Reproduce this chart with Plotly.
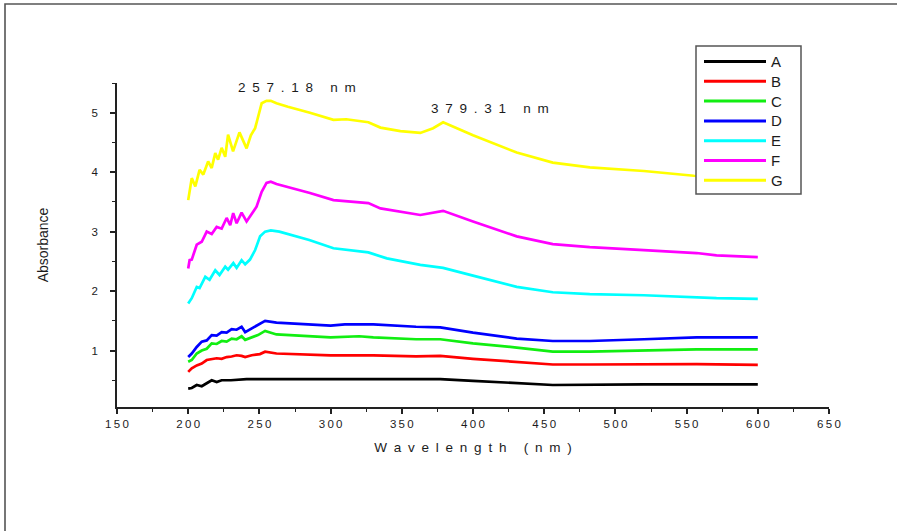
import plotly.graph_objects as go

# ---- data -----------------------------------------------------------------
series_names = ["A", "B", "C", "D", "E", "F", "G"]
series_colors = ["#000000", "#FF0000", "#11EE11", "#0000FF", "#00FFFF", "#FF00FF", "#FFFF00"]

wl_A = [200, 202.5, 206, 209.5, 213, 216.5, 220, 223.5, 230, 241, 262, 300, 330, 360, 377, 400, 430.7, 456, 520, 557, 600]
abs_A = [0.36, 0.37, 0.42, 0.40, 0.45, 0.50, 0.47, 0.50, 0.50, 0.52, 0.52, 0.52, 0.52, 0.51, 0.52, 0.49, 0.445, 0.42, 0.43, 0.43, 0.43]

wl_B = [200, 202.5, 206, 209.5, 213, 216.5, 220, 223.5, 227, 230.5, 234, 237.5, 240, 244.6, 250.4, 254, 262, 300, 330, 360, 377, 400, 430.7, 456, 482, 520, 557, 600]
abs_B = [0.64, 0.70, 0.75, 0.78, 0.84, 0.86, 0.87, 0.86, 0.89, 0.90, 0.92, 0.91, 0.89, 0.92, 0.94, 0.98, 0.95, 0.92, 0.92, 0.90, 0.91, 0.86, 0.81, 0.765, 0.765, 0.77, 0.77, 0.76]

wl_C = [200, 202.5, 206, 209.5, 213, 216.5, 220, 223.5, 227, 230.5, 234, 237.5, 240, 244.6, 249, 254, 262, 300, 320, 330, 360, 377, 400, 430.7, 456, 482, 520, 557, 600]
abs_C = [0.81, 0.84, 0.95, 1.00, 1.03, 1.12, 1.11, 1.16, 1.15, 1.20, 1.19, 1.24, 1.18, 1.22, 1.26, 1.33, 1.27, 1.22, 1.24, 1.22, 1.19, 1.19, 1.12, 1.05, 0.98, 0.98, 1.00, 1.02, 1.02]

wl_D = [200, 202.5, 206, 209.5, 213, 216.5, 220, 223.5, 227, 230.5, 234, 237.5, 240, 244.6, 249, 254, 262, 300, 310, 330, 360, 377, 400, 430.7, 456, 482, 520, 557, 600]
abs_D = [0.89, 0.95, 1.06, 1.15, 1.17, 1.26, 1.25, 1.31, 1.30, 1.36, 1.35, 1.40, 1.31, 1.37, 1.43, 1.50, 1.47, 1.42, 1.44, 1.44, 1.40, 1.39, 1.30, 1.20, 1.16, 1.16, 1.19, 1.22, 1.22]

wl_E = [200, 202.5, 206, 208, 212, 215, 219, 222, 226, 228, 231.7, 234, 237.5, 240, 243.4, 247, 250.5, 254, 258, 264, 285, 302, 326.5, 339.5, 363, 379, 400, 430.7, 456, 482, 520, 557, 571, 600]
abs_E = [1.79, 1.88, 2.07, 2.05, 2.24, 2.19, 2.35, 2.27, 2.41, 2.36, 2.47, 2.39, 2.52, 2.45, 2.53, 2.69, 2.92, 3.00, 3.02, 3.00, 2.86, 2.72, 2.65, 2.55, 2.44, 2.39, 2.26, 2.07, 1.98, 1.95, 1.93, 1.90, 1.88, 1.87]

wl_F = [200, 201, 202.5, 206, 209.5, 213, 216.5, 220, 223.5, 227, 229.5, 231.6, 234, 237.5, 241, 244.6, 248, 251.6, 255, 258, 262, 285.5, 302, 326.5, 335, 363, 379, 400, 430.7, 456, 482, 520, 557, 571, 600]
abs_F = [2.38, 2.52, 2.53, 2.78, 2.83, 3.00, 2.96, 3.08, 3.05, 3.23, 3.11, 3.31, 3.14, 3.32, 3.17, 3.31, 3.42, 3.67, 3.82, 3.84, 3.80, 3.65, 3.53, 3.48, 3.39, 3.28, 3.35, 3.17, 2.92, 2.79, 2.74, 2.69, 2.64, 2.60, 2.57]

wl_G = [200, 202.5, 205, 208, 210.6, 214, 216.5, 219, 221, 223.5, 226, 228, 231.5, 236, 241, 244, 247, 249, 251.6, 255, 258, 262, 270, 285.5, 302, 311, 326.5, 335, 349, 363, 372, 379, 400, 430.7, 456, 482, 520, 555, 600]
abs_G = [3.53, 3.90, 3.76, 4.04, 3.96, 4.18, 4.07, 4.32, 4.21, 4.41, 4.26, 4.63, 4.35, 4.67, 4.40, 4.62, 4.74, 4.94, 5.16, 5.20, 5.20, 5.16, 5.10, 5.00, 4.88, 4.89, 4.84, 4.75, 4.69, 4.66, 4.74, 4.84, 4.62, 4.33, 4.16, 4.08, 4.02, 3.94, 3.88]

wavelengths = [wl_A, wl_B, wl_C, wl_D, wl_E, wl_F, wl_G]
absorbances = [abs_A, abs_B, abs_C, abs_D, abs_E, abs_F, abs_G]

x_ticks = [150, 200, 250, 300, 350, 400, 450, 500, 550, 600, 650]
y_ticks = [1, 2, 3, 4, 5]

peak_labels = [(257.18, 5.20, "257.18 nm"), (379.31, 4.84, "379.31 nm")]

# ---- layout geometry (pixels) ---------------------------------------------
W, H = 897, 531
ML, MR, MT, MB = 117, 68, 83, 124
PW, PH = W - ML - MR, H - MT - MB
FONT = "Liberation Sans, Arial, sans-serif"
TXT = "#1c1c1c"


def px_x(px):
    return (px - ML) / PW


def px_y(py):
    return (H - MB - py) / PH


def spaced(s, gap="\u2009"):
    return gap.join(list(s))


fig = go.Figure()
for name, color, xs, ys in zip(series_names, series_colors, wavelengths, absorbances):
    fig.add_trace(go.Scatter(x=xs, y=ys, mode="lines", name=name,
                             line=dict(color=color, width=2.7),
                             showlegend=False, hoverinfo="skip"))

shapes = []
annotations = []

# outer frame (open to the right and bottom)
shapes.append(dict(type="path", xref="paper", yref="paper",
                   path="M {:.4f} {:.4f} L {:.4f} {:.4f} L {:.4f} {:.4f}".format(
                       px_x(5), px_y(560), px_x(5), px_y(4), px_x(960), px_y(4)),
                   line=dict(color="#555555", width=1.6), layer="above"))

# legend box
lg_left, lg_right, lg_top, lg_bottom = 696, 801, 46, 194
shapes.append(dict(type="rect", xref="paper", yref="paper",
                   x0=px_x(lg_left), x1=px_x(lg_right), y0=px_y(lg_bottom), y1=px_y(lg_top),
                   line=dict(color="#555555", width=1.5), fillcolor="white", layer="above"))
for i, (name, color) in enumerate(zip(series_names, series_colors)):
    cy = 61.5 + i * 19.8
    shapes.append(dict(type="line", xref="paper", yref="paper",
                       x0=px_x(704), x1=px_x(766), y0=px_y(cy), y1=px_y(cy),
                       line=dict(color=color, width=3), layer="above"))
    annotations.append(dict(xref="paper", yref="paper", x=px_x(769), y=px_y(cy),
                            text=name, showarrow=False, xanchor="left", yanchor="middle",
                            font=dict(family=FONT, size=15, color=TXT)))

# peak wavelength labels
for (xv, yv, label), dx in zip(peak_labels, [27, 46]):
    annotations.append(dict(x=xv, y=yv, xref="x", yref="y", text=spaced(label, "\u2002"),
                            showarrow=False, yanchor="bottom", yshift=4, xshift=dx,
                            font=dict(family=FONT, size=13.5, color=TXT)))

fig.update_layout(
    width=W, height=H,
    margin=dict(l=ML, r=MR, t=MT, b=MB, pad=0),
    paper_bgcolor="white", plot_bgcolor="white",
    shapes=shapes, annotations=annotations,
    xaxis=dict(range=[150, 650], showgrid=False, zeroline=False,
               showline=True, linecolor="#222222", linewidth=1.5,
               ticks="outside", ticklen=5, tickwidth=1.5, tickcolor="#222222",
               tickvals=x_ticks, ticktext=[spaced(str(v)) for v in x_ticks],
               tickfont=dict(family=FONT, size=11.5, color=TXT),
               minor=dict(dtick=25, tick0=150, ticks="outside", ticklen=3,
                          tickwidth=1.2, tickcolor="#222222", showgrid=False),
               title=dict(text=spaced("Wavelength (nm)", "\u2002"), standoff=14,
                          font=dict(family=FONT, size=13.5, color=TXT))),
    yaxis=dict(range=[0.05, 5.5], showgrid=False, zeroline=False,
               showline=True, linecolor="#222222", linewidth=1.5,
               ticks="outside", ticklen=5, tickwidth=1.5, tickcolor="#222222",
               tickvals=y_ticks, ticktext=[str(v) for v in y_ticks],
               tickfont=dict(family=FONT, size=11.5, color=TXT),
               ticklabelstandoff=10,
               minor=dict(dtick=0.5, tick0=0, ticks="outside", ticklen=3,
                          tickwidth=1.2, tickcolor="#222222", showgrid=False),
               title=dict(text="Absorbance", standoff=40,
                          font=dict(family=FONT, size=14, color=TXT))),
)

fig.write_html("out.html")
